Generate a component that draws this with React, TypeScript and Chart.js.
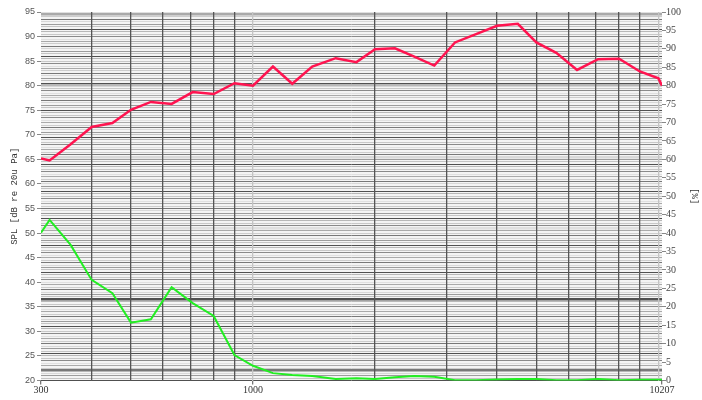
import React, { useEffect, useRef } from 'react';
import { Chart, registerables } from 'chart.js';
Chart.register(...registerables);

const freqs = [300, 315, 355, 400, 450, 500, 560, 630, 710, 800, 900, 1000, 1120, 1250, 1400, 1600, 1800, 2000, 2240, 2500, 2800, 3150, 3550, 4000, 4500, 5000, 5600, 6300, 7100, 8000, 9000, 10000, 10207];
const spl = [65.2, 64.8, 68.1, 71.6, 72.4, 75.1, 76.7, 76.3, 78.7, 78.3, 80.5, 80.0, 83.9, 80.4, 83.9, 85.6, 84.8, 87.4, 87.6, 85.9, 84.1, 88.8, 90.5, 92.2, 92.6, 88.8, 86.7, 83.2, 85.4, 85.5, 82.9, 81.5, 80.0];
const thd = [40.1, 43.6, 36.8, 27.3, 23.7, 15.7, 16.6, 25.3, 21.0, 17.5, 6.9, 4.0, 2.0, 1.5, 1.2, 0.4, 0.6, 0.4, 0.9, 1.2, 1.0, 0.1, 0.1, 0.3, 0.4, 0.4, 0.1, 0.1, 0.4, 0.1, 0.2, 0.2, 0.2];
const xGridTicks = [300, 400, 500, 600, 700, 800, 900, 1000, 2000, 3000, 4000, 5000, 6000, 7000, 8000, 9000, 10000, 10207];
const xLabelTicks = [300, 1000, 10207];
const leftTitle = 'SPL [dB re 20u Pa]';
const rightTitle = '[%]';

const gridShades = ['#505050', '#c4c4c4', '#9c9c9c', '#d8d8d8', '#787878', '#cdcdcd', '#aaaaaa', '#e0e0e0', '#8a8a8a', '#c8c8c8', '#b8b8b8'];

const bgPlugin = {
  id: 'bg',
  beforeDraw(chart: any) {
    const { ctx, chartArea } = chart;
    ctx.save();
    ctx.fillStyle = '#f4f4f4';
    ctx.fillRect(chartArea.left, chartArea.top, chartArea.right - chartArea.left, chartArea.bottom - chartArea.top);
    ctx.restore();
  },
};

export default function App() {
  const ref = useRef<HTMLCanvasElement>(null);
  useEffect(() => {
    document.body.style.margin = '0';
    const chart = new Chart(ref.current!, {
      type: 'line',
      data: {
        datasets: [
          {
            label: 'SPL',
            data: freqs.map((f, i) => ({ x: f, y: spl[i] })),
            borderColor: '#ff1450',
            borderWidth: 2.5,
            pointRadius: 0,
            tension: 0,
            yAxisID: 'y',
          },
          {
            label: 'THD',
            data: freqs.map((f, i) => ({ x: f, y: thd[i] })),
            borderColor: '#22ee22',
            borderWidth: 2,
            pointRadius: 0,
            tension: 0,
            yAxisID: 'y1',
          },
        ],
      },
      options: {
        animation: false,
        responsive: false,
        layout: { padding: { top: 12, left: 0, right: 0, bottom: 0 } },
        plugins: { legend: { display: false }, tooltip: { enabled: false } },
        scales: {
          yg: {
            type: 'linear',
            position: 'left',
            min: 20,
            max: 95,
            z: -1,
            afterBuildTicks: (s: any) => {
              const t = [];
              for (let i = 0; i <= 150; i++) t.push({ value: 20 + i * 0.5 });
              s.ticks = t;
            },
            afterFit: (s: any) => {
              s.width = 0;
            },
            border: { display: false },
            ticks: { display: false },
            grid: {
              drawTicks: false,
              color: (c: any) => gridShades[c.index % gridShades.length],
              lineWidth: (c: any) => (c.index % 29 === 4 ? 2.5 : 1),
            },
          },
          x: {
            type: 'logarithmic',
            min: 300,
            max: 10207,
            afterBuildTicks: (s: any) => {
              s.ticks = xGridTicks.map((v) => ({ value: v }));
            },
            afterFit: (s: any) => {
              s.height = 19.5;
            },
            border: { display: false },
            grid: {
              color: (c: any) => {
                const v = c.tick?.value;
                if (v === 300 || v === 10207) return 'rgba(0,0,0,0)';
                if (v === 1000 || v === 10000) return '#c4c4c4';
                return '#555555';
              },
              lineWidth: 1.3,
              tickLength: 4,
              tickColor: (c: any) => (xLabelTicks.includes(c.tick?.value) ? '#777' : 'rgba(0,0,0,0)'),
            },
            ticks: {
              autoSkip: false,
              maxRotation: 0,
              padding: 0,
              color: '#333',
              font: { family: 'Liberation Serif', size: 10 },
              callback: (v: any) => (xLabelTicks.includes(Number(v)) ? String(v) : ''),
            },
          },
          y: {
            type: 'linear',
            position: 'left',
            min: 20,
            max: 95,
            ticks: {
              stepSize: 5,
              padding: 2,
              color: '#555',
              font: { family: 'Liberation Sans', size: 9 },
            },
            afterFit: (s: any) => {
              s.width = 41;
            },
            border: { display: false },
            grid: { drawOnChartArea: false, tickLength: 4, tickColor: '#888' },
            title: {
              display: true,
              text: leftTitle,
              color: '#333',
              padding: { top: 9, bottom: 0 },
              font: { family: 'Liberation Mono', size: 9 },
            },
          },
          y1: {
            type: 'linear',
            position: 'right',
            min: 0,
            max: 100,
            ticks: {
              stepSize: 5,
              padding: 0,
              color: '#444',
              font: { family: 'Liberation Serif', size: 10 },
            },
            afterFit: (s: any) => {
              s.width = 40;
            },
            border: { display: false },
            grid: { drawOnChartArea: false, tickLength: 4, tickColor: '#888' },
            title: {
              display: true,
              text: rightTitle,
              color: '#333',
              padding: { top: 2, bottom: 0 },
              font: { family: 'Liberation Mono', size: 9 },
            },
          },
        },
      },
      plugins: [bgPlugin],
    });
    return () => chart.destroy();
  }, []);
  return (
    <div style={{ width: 702, height: 400 }}>
      <canvas ref={ref} width={702} height={400} />
    </div>
  );
}
